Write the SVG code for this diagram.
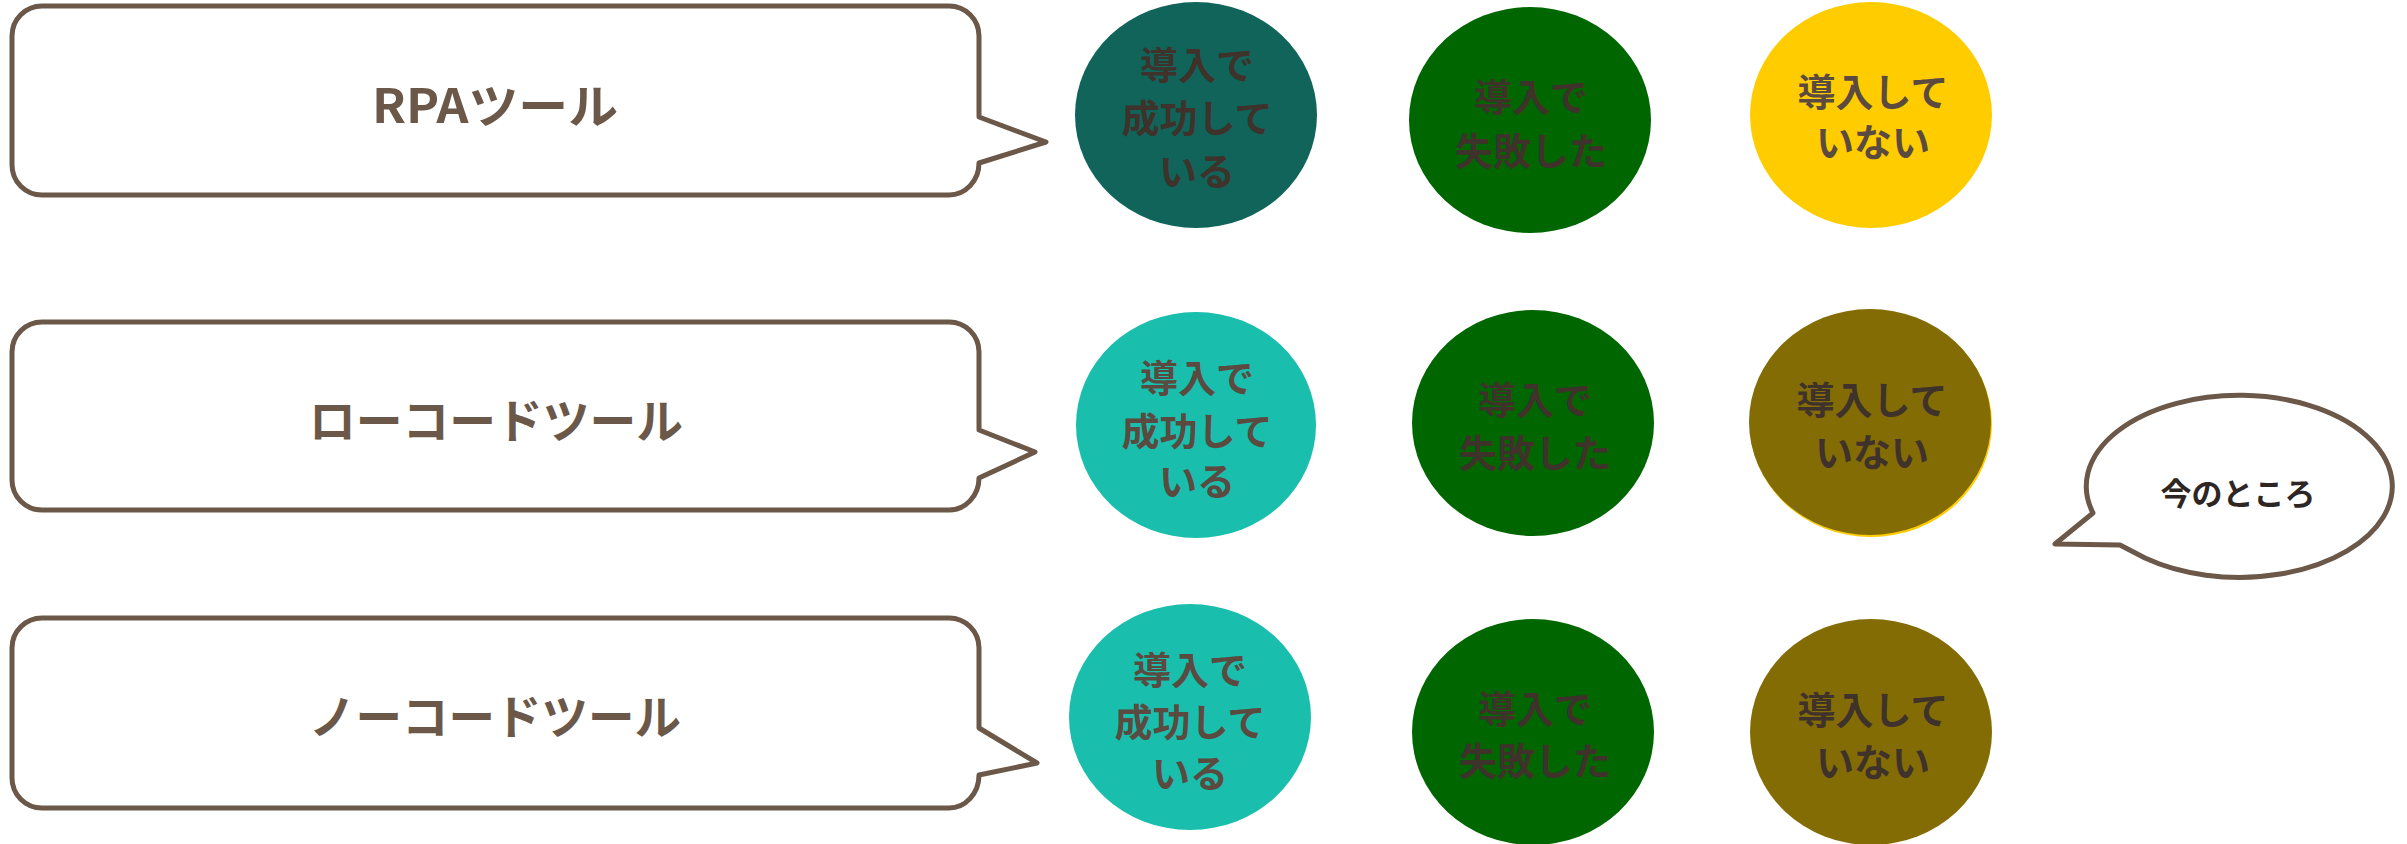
<svg xmlns="http://www.w3.org/2000/svg" width="2407" height="844" viewBox="0 0 2407 844">
<style>
.bub{fill:#fff;stroke:#6B5849;stroke-width:5;stroke-linejoin:round}
.lbl{font-family:"Noto Sans CJK JP","Liberation Sans",sans-serif;font-weight:bold;font-size:47px;fill:#6B5849;text-anchor:middle;dominant-baseline:central}
.ct{font-family:"Noto Sans CJK JP","Liberation Sans",sans-serif;font-weight:bold;font-size:38px;fill:#3e322b;text-anchor:middle;dominant-baseline:central}
.ct2{fill:#5b4a3f}
.say{font-family:"Noto Sans CJK JP","Liberation Sans",sans-serif;font-weight:bold;font-size:31px;fill:#2e2622;text-anchor:middle;dominant-baseline:central}
</style>
<rect width="2407" height="844" fill="#fff"/>
<g id="bubble-rpa">
<path class="bub" d="M42,6 H949 A30,30 0 0 1 979,36 V117 L1046,142 L979,163 A30,32 0 0 1 949,195 H42 A30,30 0 0 1 12,165 V36 A30,30 0 0 1 42,6 Z"/>
<text class="lbl" x="495" y="102" textLength="246" lengthAdjust="spacingAndGlyphs">RPAツール</text>
</g>
<g id="bubble-lowcode">
<path class="bub" d="M42,322 H949 A30,30 0 0 1 979,352 V430 L1035,452 L979,478 A30,32 0 0 1 949,510 H42 A30,30 0 0 1 12,480 V352 A30,30 0 0 1 42,322 Z"/>
<text class="lbl" x="496" y="417" textLength="374" lengthAdjust="spacingAndGlyphs">ローコードツール</text>
</g>
<g id="bubble-nocode">
<path class="bub" d="M42,618 H949 A30,30 0 0 1 979,648 V728 L1037,763 L979,775 A30,33 0 0 1 949,808 H42 A30,30 0 0 1 12,778 V648 A30,30 0 0 1 42,618 Z"/>
<text class="lbl" x="495" y="713" textLength="372" lengthAdjust="spacingAndGlyphs">ノーコードツール</text>
</g>
<g id="r1-success">
<ellipse cx="1196" cy="115" rx="121" ry="113" fill="#10645A"/>
<text class="ct" x="1197" y="62">導入で</text>
<text class="ct" x="1197" y="115">成功して</text>
<text class="ct" x="1197" y="168">いる</text>
</g>
<g id="r1-fail">
<ellipse cx="1530" cy="120" rx="121" ry="113" fill="#006600"/>
<text class="ct" x="1531" y="94">導入で</text>
<text class="ct" x="1531" y="148">失敗した</text>
</g>
<g id="r1-none">
<ellipse cx="1871" cy="115" rx="121" ry="113" fill="#FFCC00"/>
<text class="ct ct2" x="1873" y="89">導入して</text>
<text class="ct ct2" x="1873" y="139">いない</text>
</g>
<g id="r2-success">
<ellipse cx="1196" cy="425" rx="120" ry="113" fill="#1ABEAD"/>
<text class="ct ct2" x="1197" y="375">導入で</text>
<text class="ct ct2" x="1197" y="428">成功して</text>
<text class="ct ct2" x="1197" y="478">いる</text>
</g>
<g id="r2-fail">
<ellipse cx="1533" cy="423" rx="121" ry="113" fill="#006600"/>
<text class="ct" x="1535" y="397">導入で</text>
<text class="ct" x="1535" y="450">失敗した</text>
</g>
<g id="r2-none">
<ellipse cx="1871" cy="424" rx="121" ry="113" fill="#FFCC00"/>
<ellipse cx="1870" cy="422" rx="121" ry="113" fill="#846C05"/>
<text class="ct" x="1872" y="397">導入して</text>
<text class="ct" x="1872" y="449">いない</text>
</g>
<g id="r3-success">
<ellipse cx="1190" cy="717" rx="121" ry="113" fill="#1ABEAD"/>
<text class="ct ct2" x="1190" y="667">導入で</text>
<text class="ct ct2" x="1190" y="719">成功して</text>
<text class="ct ct2" x="1190" y="770">いる</text>
</g>
<g id="r3-fail">
<ellipse cx="1533" cy="732" rx="121" ry="113" fill="#006600"/>
<text class="ct" x="1535" y="706">導入で</text>
<text class="ct" x="1535" y="758">失敗した</text>
</g>
<g id="r3-none">
<ellipse cx="1871" cy="732" rx="121" ry="113" fill="#846C05"/>
<text class="ct" x="1873" y="707">導入して</text>
<text class="ct" x="1873" y="759">いない</text>
</g>
<g id="callout">
<path class="bub" d="M2093,513 L2055,544 L2120,545 L2145,558 A153,91 0 1 0 2093,513 Z"/>
<text class="say" x="2238" y="491">今のところ</text>
</g>
<g id="connectors"></g>
</svg>
